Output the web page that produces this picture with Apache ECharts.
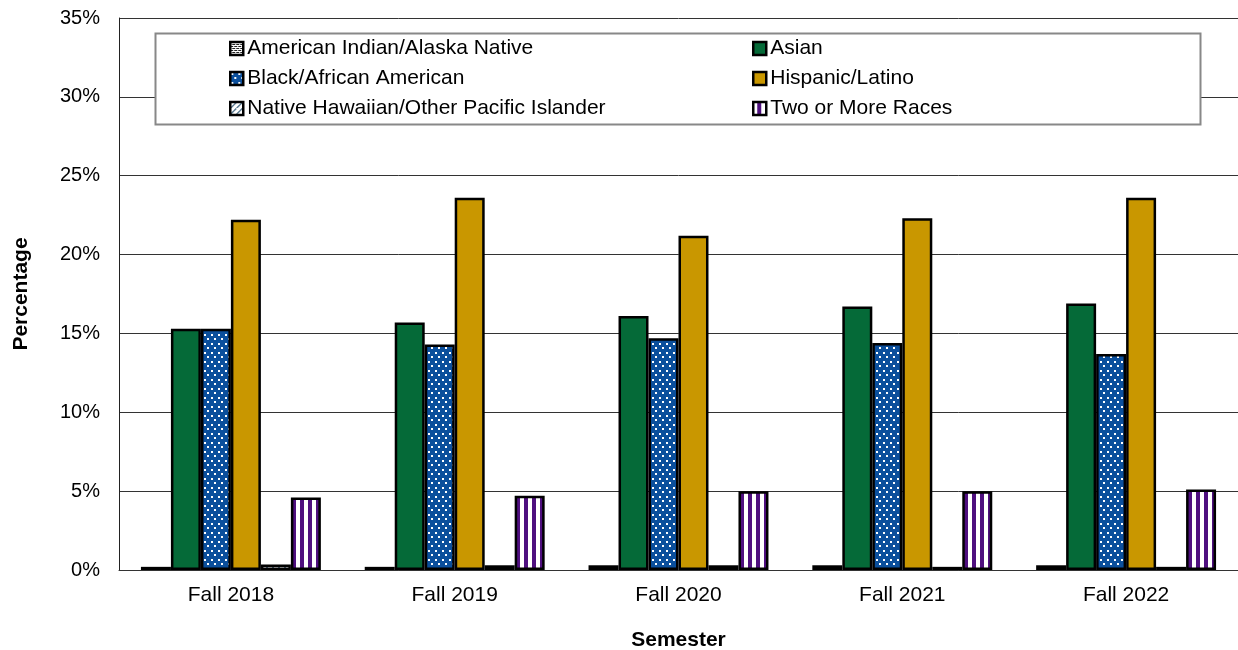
<!DOCTYPE html>
<html><head><meta charset="utf-8">
<script src="https://cdn.jsdelivr.net/npm/echarts@6/dist/echarts.min.js"></script>
<style>html,body{margin:0;padding:0;background:#fff}#c{width:1238px;height:650px}</style>
</head><body><div id="c"></div>
<script>
const categories = ['Fall 2018','Fall 2019','Fall 2020','Fall 2021','Fall 2022'];
const seriesNames = ['American Indian/Alaska Native','Asian','Black/African American','Hispanic/Latino','Native Hawaiian/Other Pacific Islander','Two or More Races'];
const aian = [0.2, 0.2, 0.3, 0.3, 0.3];
const asian = [15.3, 15.7, 16.1, 16.7, 16.9];
const black = [15.3, 14.3, 14.7, 14.4, 13.7];
const hispanic = [22.2, 23.6, 21.2, 22.3, 23.6];
const nhpi = [0.35, 0.3, 0.3, 0.2, 0.2];
const twoMore = [4.6, 4.7, 5.0, 5.0, 5.1];
const yTicks = [0,5,10,15,20,25,30,35];

function tile(w,h,draw){const c=document.createElement('canvas');c.width=w;c.height=h;const g=c.getContext('2d');draw(g);return {image:c,repeat:'repeat'};}
const patAian = tile(4,4,g=>{g.fillStyle='#fff';g.fillRect(0,0,4,4);g.fillStyle='#222';g.fillRect(0,0,3,1);g.fillRect(2,2,3,1);g.fillRect(0,2,1,1);});
const patBlack = tile(7,9,g=>{g.fillStyle='#0B4F9C';g.fillRect(0,0,7,9);g.fillStyle='#fff';g.fillRect(1,1,2,2);g.fillRect(4,5,2,2);});
const patNhpi = tile(6,6,g=>{g.fillStyle='#fff';g.fillRect(0,0,6,6);g.fillStyle='#5B7B92';for(let i=0;i<6;i++){g.fillRect(i,5-i,2,1);}});
const patTwo = tile(8,4,g=>{g.fillStyle='#fff';g.fillRect(0,0,8,4);g.fillStyle='#4F0F7F';g.fillRect(4,0,4,4);});
const colors = [patAian,'#056A38',patBlack,'#C99700',patNhpi,patTwo];
const dataArr = [aian,asian,black,hispanic,nhpi,twoMore];

const chart = echarts.init(document.getElementById('c'));
const font = 'Arial, "Liberation Sans", sans-serif';
const legendCommon = {orient:'vertical',top:33,z:60,itemWidth:13,itemHeight:13,itemGap:9,icon:'rect',
  itemStyle:{borderColor:'#000',borderWidth:2.5},
  textStyle:{fontSize:21,color:'#000',fontFamily:font,padding:[0,0,0,-1]}};
chart.setOption({
  animation:false,
  textStyle:{fontFamily:font,color:'#000'},
  grid:{left:119,right:0,top:18,bottom:80,outerBoundsMode:'none',containLabel:false},
  xAxis:{type:'category',data:categories,
    axisLine:{lineStyle:{color:'#333',width:1}},axisTick:{show:false},
    axisLabel:{fontSize:21,color:'#000',margin:15,fontFamily:font},
    name:'Semester',nameLocation:'middle',nameGap:60,
    nameTextStyle:{fontSize:21,fontWeight:'bold',color:'#000',fontFamily:font}},
  yAxis:{type:'value',min:0,max:35,interval:5,
    axisLine:{show:true,lineStyle:{color:'#222',width:1}},axisTick:{show:false},
    splitLine:{lineStyle:{color:'#333',width:1}},
    axisLabel:{fontSize:20,color:'#000',margin:19,fontFamily:font,formatter:v=>v+'%'},
    name:'Percentage',nameLocation:'middle',nameGap:87,
    nameTextStyle:{fontSize:21,fontWeight:'bold',color:'#000',fontFamily:font}},
  graphic:[{type:'rect',z:50,shape:{x:155.5,y:33.5,width:1045,height:91},
    style:{fill:'#fff',stroke:'#888',lineWidth:2}}],
  legend:[
    Object.assign({data:[seriesNames[0],seriesNames[2],seriesNames[4]],left:224},legendCommon),
    Object.assign({data:[seriesNames[1],seriesNames[3],seriesNames[5]],left:747},legendCommon)
  ],
  series: seriesNames.map((n,i)=>({
    name:n,type:'bar',data:dataArr[i],barGap:'0%',barCategoryGap:'19.6%',
    itemStyle:{color:colors[i],borderColor:'#000',borderWidth:2.5},
    emphasis:{disabled:true}
  }))
});
</script></body></html>
